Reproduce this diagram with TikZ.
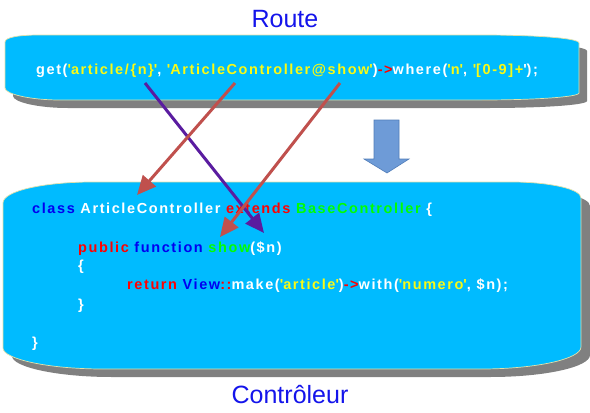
\documentclass[tikz,border=0pt]{standalone}
\usepackage{fontspec}
\setmainfont{Liberation Sans}
\newfontfamily\codefont{Liberation Sans}[LetterSpace=11]
\usetikzlibrary{arrows.meta}
\definecolor{boxblue}{RGB}{0,187,255}
\definecolor{shadowgray}{RGB}{128,128,128}
\definecolor{edgecol}{RGB}{225,225,170}
\definecolor{kwblue}{RGB}{0,0,240}
\definecolor{kwred}{RGB}{255,0,0}
\definecolor{kwgreen}{RGB}{0,255,0}
\definecolor{kwyellow}{RGB}{250,250,20}
\definecolor{titleblue}{RGB}{20,20,235}
\definecolor{arrpurple}{RGB}{90,28,160}
\definecolor{arrred}{RGB}{192,80,77}
\definecolor{blockfill}{RGB}{110,155,215}
\definecolor{blockedge}{RGB}{80,125,185}
\newcommand\q{\textquotesingle}
\newcommand\Y[1]{\textcolor{kwyellow}{#1}}
\newcommand\R[1]{\textcolor{kwred}{#1}}
\newcommand\B[1]{\textcolor{kwblue}{#1}}
\newcommand\G[1]{\textcolor{kwgreen}{#1}}
\tikzset{
  bannerpath/.style={insert path={(5,42) .. controls (5,37) and (20,35) .. (40,35) -- (480,35) .. controls (535,35) and (579,38) .. (579,43) -- (579,93) .. controls (579,97) and (535,100) .. (480,100) -- (60,100) .. controls (30,100) and (5,94) .. (5,88) -- cycle}},
  boxpath/.style={insert path={(3,203) .. controls (3,191) and (43,182) .. (93,182) -- (511,182) .. controls (550,182) and (581,189) .. (581,198) -- (581,347) .. controls (581,359) and (536,369) .. (481,369) -- (103,369) .. controls (48,369) and (3,359) .. (3,348) -- cycle}},
  shadowfill/.style={fill=shadowgray},
  panel/.style={fill=boxblue, draw=edgecol, line width=0.7pt},
  code/.style={anchor=base west, inner sep=0pt, text=white, font=\codefont\bfseries\fontsize{14.5}{16}\selectfont},
  title/.style={inner sep=0pt, text=titleblue, font=\fontsize{25}{28}\selectfont},
  link/.style={line width=3pt},
  linkhead/.style={-{Triangle[length=19pt,width=17pt]}},
}
\begin{document}
\begin{tikzpicture}[x=1pt,y=-1pt]
\useasboundingbox (0,0) rectangle (590,413);
\fill[white] (0,0) rectangle (590,413);

% route banner
\path[shadowfill, shift={(8,8)}, bannerpath];
\path[panel, bannerpath];
% controller box
\path[shadowfill, shift={(9,8)}, boxpath];
\path[panel, boxpath];

% titles
\node[title] (route) at (285,19) {Route};
\node[title] (ctrl) at (290,395) {Contrôleur};

% route code
\node[code] (rline) at (36,74) {get(\Y{\q article/\{n\}\q}, \Y{\q ArticleController@show\q})\R{->}where(\Y{\q n\q}, \Y{\q[0-9]+}\q);};

% controller code
\node[code] (c1) at (32,213) {\B{class} ArticleController \R{extends} \G{BaseController} \{};
\node[code] (c2) at (78,252) {\R{public} \B{function} \G{show}(\$n)};
\node[code] (c3) at (78,270) {\{};
\node[code] (c4) at (127,289) {\R{return} \B{View}\R{::}make(\Y{\q article\q})\R{->}with(\Y{\q numero\q}, \$n);};
\node[code] (c5) at (78,309) {\}};
\node[code] (c6) at (32,347) {\}};

% block arrow
\node (down) at (387,146) {};
\draw[fill=blockfill, draw=blockedge, line width=0.6pt]
  (374,120) -- (399,120) -- (399,159) -- (409,159) -- (387,173) -- (364,159) -- (374,159) -- cycle;

% link arrows
\coordinate (pS) at (145,83);
\coordinate (pE) at (264,233);
\coordinate (aS) at (235,83);
\coordinate (aE) at (137,195);
\coordinate (sS) at (340,83);
\coordinate (sE) at (220,237);
\draw[link, linkhead, draw=arrpurple, fill=arrpurple] (pS) -- (pE);
\draw[link, linkhead, draw=arrred, fill=arrred] (aS) -- (aE);
\draw[link, linkhead, draw=arrred, fill=arrred] (sS) -- (sE);
\end{tikzpicture}
\end{document}
